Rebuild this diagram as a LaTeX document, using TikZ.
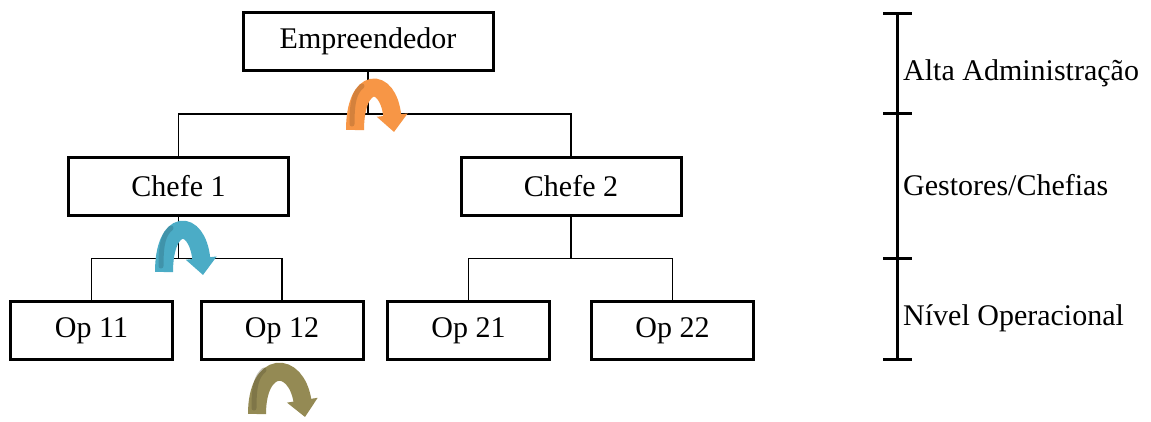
\documentclass[tikz,border=0pt]{standalone}
\usepackage{fontspec}
\setmainfont{Liberation Serif}
\usetikzlibrary{arrows.meta}
\definecolor{turnorange}{HTML}{F79646}
\definecolor{turnblue}{HTML}{4BACC6}
\definecolor{turnolive}{HTML}{948A54}
\begin{document}
\begin{tikzpicture}[x=1pt,y=-1pt,
  box/.style={draw=black,line width=3pt,fill=white,inner sep=0pt,
    minimum height=58pt,font=\fontsize{30}{30}\selectfont},
  wide/.style={box,minimum width=250pt},
  mid/.style={box,minimum width=220pt},
  small/.style={box,minimum width=162pt},
  link/.style={line width=1.7pt},
  scale bar/.style={line width=3pt},
  level/.style={anchor=base west,inner sep=0pt,font=\fontsize{30}{30}\selectfont},
  turn/.style={line width=18pt,-{Triangle[width=30pt,length=17pt]}},
  turnshade/.style={line width=5pt,opacity=0.35,line cap=round}]
\useasboundingbox (0,0) rectangle (1151,421);
\fill[white] (0,0) rectangle (1151,421);

% organisation chart
\node[wide]  (emp) at (368,41.5) {Empreendedor};
\node[mid]   (c1)  at (178.5,186) {Chefe 1};
\node[mid]   (c2)  at (571,186) {Chefe 2};
\node[small] (o11) at (91.5,330.5) {Op 11};
\node[small] (o12) at (282,330.5) {Op 12};
\node[small] (o21) at (468.5,330.5) {Op 21};
\node[small] (o22) at (672.5,330.5) {Op 22};

\draw[link] (emp.south) -- ++(0,42) coordinate (j0);
\draw[link] (c1.north) |- (j0) -| (c2.north);
\draw[link] (c1.south) -- ++(0,42) coordinate (j1);
\draw[link] (o11.north) |- (j1) -| (o12.north);
\draw[link] (c2.south) -- ++(0,42) coordinate (j2);
\draw[link] (o21.north) |- (j2) -| (o22.north);

% curved arrows
\draw[turn,turnorange] (355,130) .. controls (355,76) and (388,76) .. (394,132);
\draw[turnshade,turnorange!60!black] (352,124) .. controls (352,100) and (355,92) .. (362,86);
\draw[turn,turnblue] (164,272) .. controls (164,218) and (197,218) .. (203,275);
\draw[turnshade,turnblue!60!black] (161,266) .. controls (161,242) and (164,234) .. (171,228);
\draw[turn,turnolive] (257,414) .. controls (257,360) and (296,360) .. (305,417);
\draw[turnshade,turnolive!60!black] (254,408) .. controls (254,384) and (257,376) .. (264,370);

% hierarchy scale
\coordinate (s0) at (897,13);
\coordinate (s1) at (897,113);
\coordinate (s2) at (897,258);
\coordinate (s3) at (897,359);
\draw[scale bar] (s0) -- (s3);
\foreach \s in {s0,s1,s2,s3}
  \draw[scale bar] ([xshift=-14pt]\s) -- ([xshift=15pt]\s);
\node[level] (l1) at (903,80) {Alta Administração};
\node[level] (l2) at (903,195) {Gestores/Chefias};
\node[level] (l3) at (903,325) {Nível Operacional};
\end{tikzpicture}
\end{document}
